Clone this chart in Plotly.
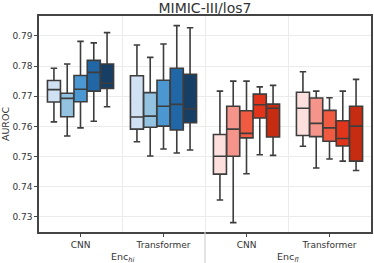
import plotly.graph_objects as go

# ---- data ----
encoders = ["Enc<sub><i>hi</i></sub>", "Enc<sub><i>fl</i></sub>"]
models = ["CNN", "Transformer"]

# per series: values for [CNN, Transformer]
hi_lower = [[0.7615, 0.7549], [0.7568, 0.7502], [0.7595, 0.7525], [0.7617, 0.7512], [0.7665, 0.7522]]
hi_q1 = [[0.7681, 0.7591], [0.7632, 0.7597], [0.7682, 0.7601], [0.7717, 0.7588], [0.7726, 0.7612]]
hi_med = [[0.7722, 0.7631], [0.7693, 0.7634], [0.7723, 0.7667], [0.7779, 0.7673], [0.7743, 0.7658]]
hi_q3 = [[0.7752, 0.7768], [0.7710, 0.7712], [0.7769, 0.7753], [0.7819, 0.7793], [0.7807, 0.7773]]
hi_upper = [[0.7793, 0.7870], [0.7807, 0.7829], [0.7882, 0.7873], [0.7877, 0.7934], [0.7911, 0.7927]]

fl_lower = [[0.7356, 0.7534], [0.7281, 0.7462], [0.7443, 0.7492], [0.7506, 0.7485], [0.7504, 0.7454]]
fl_q1 = [[0.7442, 0.7570], [0.7501, 0.7566], [0.7562, 0.7551], [0.7628, 0.7535], [0.7565, 0.7485]]
fl_med = [[0.7501, 0.7660], [0.7591, 0.7610], [0.7577, 0.7595], [0.7672, 0.7560], [0.7660, 0.7601]]
fl_q3 = [[0.7573, 0.7713], [0.7667, 0.7694], [0.7652, 0.7653], [0.7707, 0.7619], [0.7674, 0.7667]]
fl_upper = [[0.7717, 0.7781], [0.7750, 0.7717], [0.7750, 0.7695], [0.7731, 0.7717], [0.7736, 0.7756]]

blues = ["#cfe1f2", "#93c3e0", "#4a97d2", "#2167a6", "#173e64"]
reds = ["#fde0dd", "#f4948a", "#ef5a40", "#e0341b", "#c52c12"]

y_ticks = [0.73, 0.74, 0.75, 0.76, 0.77, 0.78, 0.79]

line_col = "#3d3d3d"

# category positions
n_models = len(models)
pos_hi = list(range(n_models))                       # 0, 1
pos_fl = [n_models + k for k in range(n_models)]     # 2, 3
all_pos = pos_hi + pos_fl
tick_text = models + models
boundaries = [p + 0.5 for p in all_pos[:-1]]

fig = go.Figure()
series = [
    (pos_hi, hi_lower, hi_q1, hi_med, hi_q3, hi_upper, blues),
    (pos_fl, fl_lower, fl_q1, fl_med, fl_q3, fl_upper, reds),
]
for pos, lo, q1, med, q3, up, cols in series:
    for i in range(5):
        fig.add_trace(go.Box(
            x=pos, q1=q1[i], median=med[i], q3=q3[i],
            lowerfence=lo[i], upperfence=up[i],
            fillcolor=cols[i], line=dict(color=line_col, width=1.6),
            whiskerwidth=0.5, offsetgroup=str(i), showlegend=False,
            boxpoints=False, hoverinfo="y",
        ))

# second-level labels and divider
for enc, pos in zip(encoders, [pos_hi, pos_fl]):
    fig.add_annotation(x=sum(pos) / len(pos), xref="x", y=-0.117, yref="paper",
                       text=enc, showarrow=False, yanchor="middle",
                       font=dict(size=9.5, color="#333333"))
fig.add_shape(type="line", xref="x", yref="paper",
              x0=(pos_hi[-1] + pos_fl[0]) / 2, x1=(pos_hi[-1] + pos_fl[0]) / 2,
              y0=0, y1=-0.15, line=dict(color="#d0d0d0", width=1.2))

fig.update_layout(
    width=374, height=263,
    margin=dict(l=39, r=3, t=16, b=31),
    paper_bgcolor="white", plot_bgcolor="white",
    font=dict(family="DejaVu Sans", size=9, color="#333333"),
    title=dict(text="MIMIC-III/los7", x=0.548, xanchor="center", y=0.97, yanchor="middle",
               font=dict(size=14, color="#333333")),
    boxmode="group", boxgap=0.2, boxgroupgap=0.02,
)
fig.update_xaxes(
    range=[all_pos[0] - 0.5, all_pos[-1] + 0.5],
    tickvals=all_pos, ticktext=tick_text,
    showgrid=False, zeroline=False,
    minor=dict(tickvals=boundaries, showgrid=True, gridcolor="#ebebeb", gridwidth=1, ticks=""),
    showline=True, linecolor="#444444", linewidth=1.5, mirror=True,
    ticks="outside", ticklen=3, tickcolor="#444444",
    automargin=False,
)
fig.update_yaxes(
    range=[0.725, 0.7966], tickvals=y_ticks, tickformat=".2f",
    showgrid=True, gridcolor="#ebebeb", gridwidth=1,
    showline=True, linecolor="#444444", linewidth=1.5, mirror=True,
    ticks="outside", ticklen=3, tickcolor="#444444", zeroline=False,
    title=dict(text="AUROC", standoff=4, font=dict(size=9.5)),
    automargin=False,
)

fig.write_html(
    "out.html",
    config={"displayModeBar": False},
    post_script="document.body.style.margin='0';document.body.style.padding='0';",
)
